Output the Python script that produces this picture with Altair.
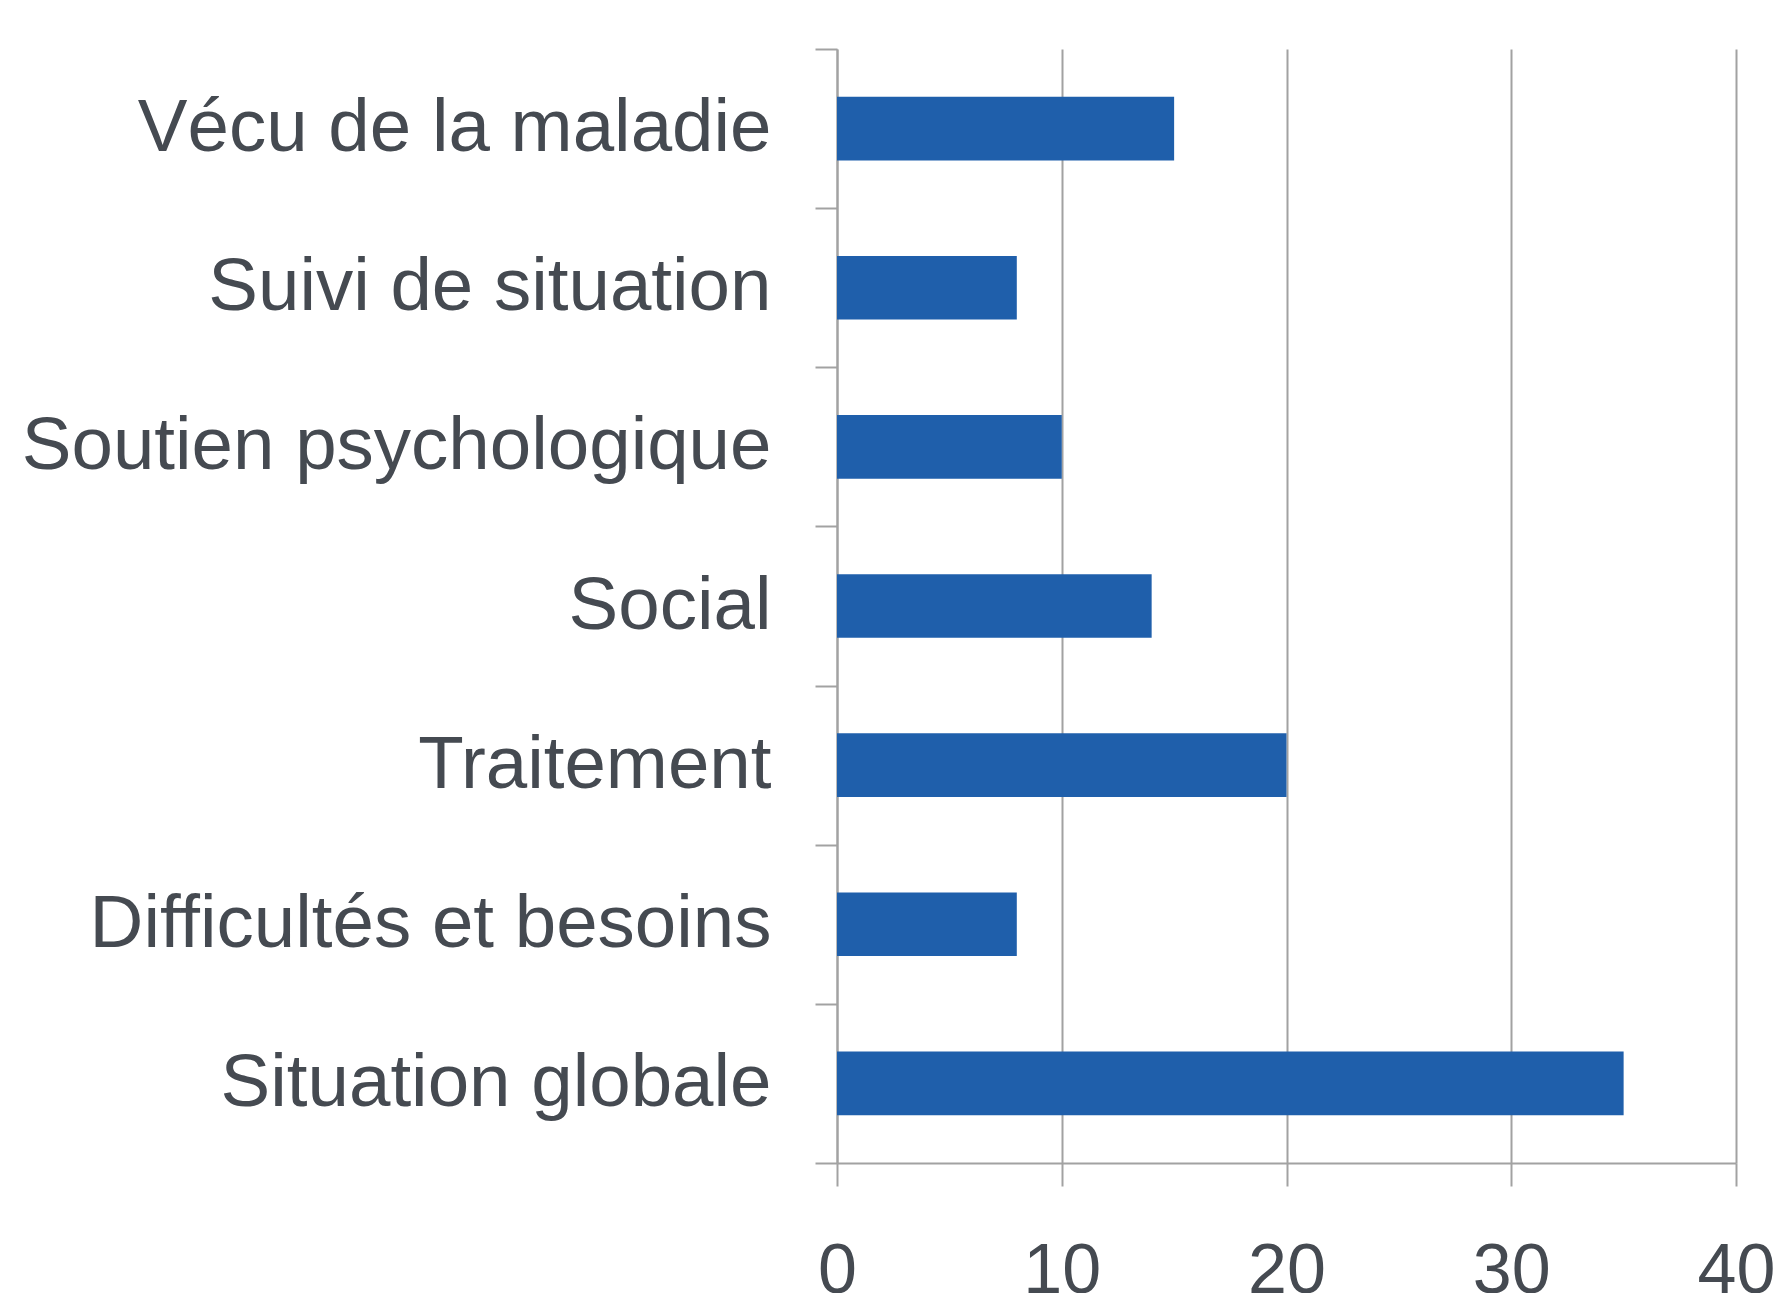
import altair as alt
import pandas as pd

categories = [
    "Vécu de la maladie",
    "Suivi de situation",
    "Soutien psychologique",
    "Social",
    "Traitement",
    "Difficultés et besoins",
    "Situation globale",
]
values = [15, 8, 10, 14, 20, 8, 35]
x_ticks = [0, 10, 20, 30, 40]

df = pd.DataFrame({"cat": categories, "val": values})

GRAY = "#a2a2a2"
TEXT = "#454a51"
BAR = "#1f5fab"
FONT = "Liberation Sans"

chart = (
    alt.Chart(df)
    .mark_bar(color=BAR, height=alt.RelativeBandSize(0.4))
    .encode(
        x=alt.X(
            "val:Q",
            scale=alt.Scale(domain=[0, 40], nice=False, zero=True),
            axis=alt.Axis(
                values=x_ticks,
                title=None,
                grid=True,
                gridColor=GRAY,
                gridWidth=2,
                domainColor=GRAY,
                domainWidth=2,
                tickColor=GRAY,
                tickWidth=2,
                tickSize=23,
                labelPadding=51,
                labelFontSize=70,
                labelFont=FONT,
                labelColor=TEXT,
                labelFlush=False,
                labelOverlap=False,
            ),
        ),
        y=alt.Y(
            "cat:N",
            sort=categories,
            scale=alt.Scale(paddingInner=0, paddingOuter=0),
            axis=alt.Axis(
                title=None,
                tickBand="extent",
                grid=False,
                domainColor=GRAY,
                domainWidth=2,
                tickColor=GRAY,
                tickWidth=2,
                tickSize=22,
                labelPadding=44,
                labelFontSize=74.5,
                labelFont=FONT,
                labelColor=TEXT,
                labelLimit=1000,
            ),
        ),
    )
    .properties(
        width=899,
        height=1114,
        autosize=alt.AutoSizeParams(type="none"),
        padding={"left": 829, "top": 41, "right": 40, "bottom": 130},
    )
    .configure_view(strokeWidth=0)
)

chart.save("out.html", embed_options={"renderer": "svg", "actions": False})
